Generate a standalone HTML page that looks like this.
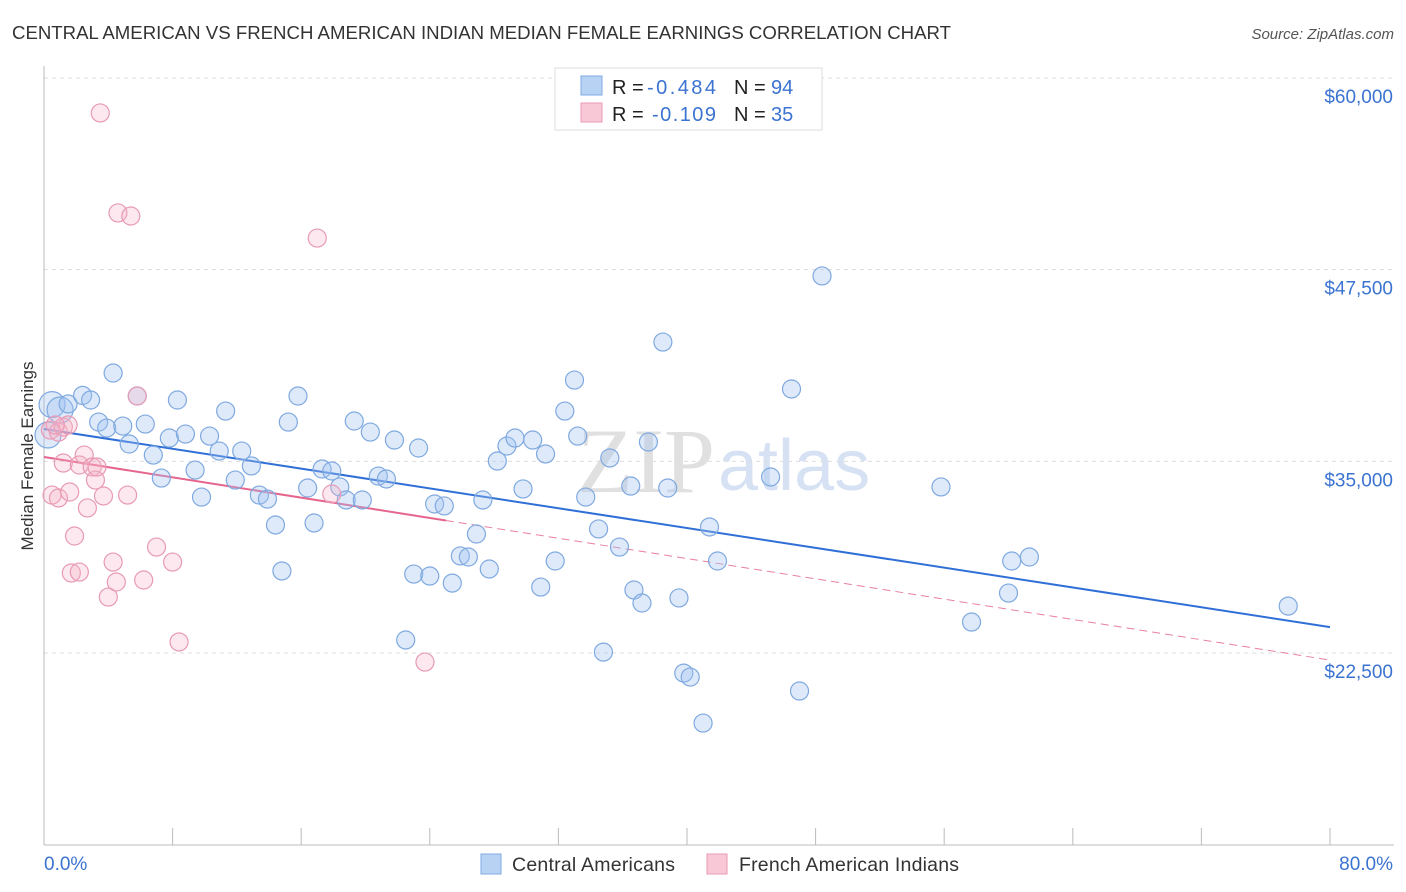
<!DOCTYPE html>
<html><head><meta charset="utf-8">
<style>
body{margin:0;background:#fff;font-family:"Liberation Sans",sans-serif;}
#wrap{position:relative;width:1406px;height:892px;overflow:hidden;}
</style></head>
<body><div id="wrap">
<svg id="svg" width="1406" height="892" xmlns="http://www.w3.org/2000/svg">
<text x="12" y="39" font-size="18" fill="#333" textLength="939" lengthAdjust="spacingAndGlyphs">CENTRAL AMERICAN VS FRENCH AMERICAN INDIAN MEDIAN FEMALE EARNINGS CORRELATION CHART</text>
<text x="1394" y="39" font-size="15" fill="#555" font-style="italic" text-anchor="end">Source: ZipAtlas.com</text>
<text x="33" y="456" font-size="17" fill="#333" text-anchor="middle" transform="rotate(-90 33 456)">Median Female Earnings</text>
<text x="715" y="492" font-size="92" fill="#c8c8c8" opacity="0.55" font-family="Liberation Serif" text-anchor="end">ZIP</text>
<text x="718" y="490" font-size="72" fill="#bcd0ee" opacity="0.6">atlas</text>
<g id="grid"></g><g id="axes"></g><g id="lines"></g><g id="pts"></g>
<g>
<rect x="555" y="68" width="267" height="62" fill="#fff" stroke="#ddd"/>
<rect x="581" y="76" width="21" height="19" fill="#b7d2f3" stroke="#7fa9e0"/>
<rect x="581" y="103" width="21" height="19" fill="#f9c8d7" stroke="#e89ab5"/>
<text x="612" y="94" font-size="20" fill="#222">R = <tspan fill="#3b73d1" x="647" textLength="69">-0.484</tspan></text>
<text x="734" y="94" font-size="20" fill="#222">N = <tspan fill="#3b73d1" x="771">94</tspan></text>
<text x="612" y="121" font-size="20" fill="#222">R = <tspan fill="#3b73d1" x="652" textLength="64">-0.109</tspan></text>
<text x="734" y="121" font-size="20" fill="#222">N = <tspan fill="#3b73d1" x="771">35</tspan></text>
</g>
<g>
<rect x="481" y="854" width="20" height="20" fill="#b7d2f3" stroke="#7fa9e0"/>
<text x="512" y="871" font-size="19.5" fill="#333" textLength="163">Central Americans</text>
<text x="739" y="871" font-size="19.5" fill="#333" textLength="220">French American Indians</text>
<rect x="707" y="854" width="20" height="20" fill="#f9c8d7" stroke="#e89ab5"/>
</g>
</svg>
<script>
const yTicks=[60000,47500,35000,22500];
const yTickLabels=["$60,000","$47,500","$35,000","$22,500"];
const xTickLabels=["0.0%","80.0%"];
const blueX=[0.5,1.0,1.5,2.4,2.9,3.4,3.9,4.3,4.9,5.3,5.8,6.3,6.8,7.3,7.8,8.3,8.8,9.4,9.8,10.3,10.9,11.3,11.9,12.3,12.9,13.4,13.9,14.4,14.8,15.2,15.8,16.4,16.8,17.3,17.9,18.4,18.8,19.3,19.8,20.3,20.8,21.3,21.8,22.5,23.0,23.3,24.0,24.3,24.9,25.4,25.9,26.4,26.9,27.3,27.7,28.2,28.8,29.3,29.8,30.4,30.9,31.2,31.8,32.4,33.0,33.2,33.7,34.5,34.8,35.2,35.8,36.5,36.7,37.2,37.6,38.5,38.8,39.5,39.8,40.2,41.0,41.4,41.9,45.2,46.5,47.0,48.4,55.8,57.7,60.0,60.2,61.3,77.4,0.25];
const blueY=[38700,38350,38740,39300,39000,37560,37170,40760,37300,36130,39260,37430,35410,33910,36520,39000,36780,34430,32670,36650,35670,38280,33780,35670,34700,32800,32540,30850,27850,37560,39260,33260,30980,34500,34370,33330,32480,37630,32480,36910,34040,33850,36390,23350,27650,35870,27520,32220,32090,27060,28830,28760,30260,32480,27980,35020,36000,36520,33200,36390,26800,35480,28500,38280,40300,36650,32670,30590,22560,35220,29410,33390,26610,25760,36260,42780,33260,26090,21190,20930,17930,30720,28500,33980,39720,20020,47090,33330,24520,26410,28500,28760,25560,36720];
const pinkX=[3.5,4.6,5.4,17.0,0.4,0.9,1.2,1.5,0.5,0.9,1.2,1.6,1.9,1.7,2.2,2.2,2.5,2.7,3.0,3.2,3.7,4.0,4.3,4.5,5.2,5.8,6.2,7.0,8.0,8.4,17.9,23.7,3.3,0.7];
const pinkY=[57720,51200,51000,49560,37040,36910,37240,37370,32800,32610,34890,33000,30130,27720,27780,34760,35410,31960,34630,33780,32740,26150,28430,27130,32800,39260,27260,29410,28430,23220,32870,21910,34630,37370];
const blueTrend=[37110,24190];
const pinkTrend=[35280,22040];
const pinkSolidEnd=25;
const X0=44,X1=1330,Y0=78,YB=845;
const sx=v=>X0+(v/80)*(X1-X0);
const sy=v=>Y0+(60000-v)/12500*191.67;
const NS="http://www.w3.org/2000/svg";
function mk(tag,parent,attrs){const e=document.createElementNS(NS,tag);for(const k in attrs)e.setAttribute(k,attrs[k]);document.getElementById(parent).appendChild(e);return e;}
yTicks.forEach((t,i)=>{
 const l=mk('line','grid',{x1:X0,x2:1394,y1:sy(t),y2:sy(t),stroke:'#ddd','stroke-dasharray':'4,4'});
 
 
 const tx=mk('text','axes',{x:1393,y:sy(t)+25,'font-size':19,fill:'#3b73d1','text-anchor':'end'});
 tx.textContent=yTickLabels[i];
 
 
});
const ax=mk('line','axes',{x1:X0,x2:X0,y1:66,y2:YB,stroke:'#bbb'});


const bx=mk('line','axes',{x1:X0,x2:1394,y1:YB,y2:YB,stroke:'#bbb'});


for(let i=0;i<=10;i++){const t=mk('line','axes',{x1:sx(i*8),x2:sx(i*8),y1:828,y2:YB,stroke:'#bbb'});
 
 }
[[0,44,'start'],[80,1393,'end']].forEach((d,i)=>{const t=mk('text','axes',{x:d[1],y:870,'font-size':19,fill:'#3b73d1','text-anchor':d[2]});t.textContent=xTickLabels[i];
 
 });
const bl=mk('line','lines',{x1:sx(0),y1:sy(blueTrend[0]),x2:sx(80),y2:sy(blueTrend[1]),stroke:'#2f6fd6','stroke-width':2});


const pAt=x=>pinkTrend[0]+(pinkTrend[1]-pinkTrend[0])*x/80;
const pd=mk('line','lines',{x1:sx(pinkSolidEnd),y1:sy(pAt(pinkSolidEnd)),x2:sx(80),y2:sy(pinkTrend[1]),stroke:'#e8809f','stroke-width':1,'stroke-dasharray':'8,5'});


const ps=mk('line','lines',{x1:sx(0),y1:sy(pinkTrend[0]),x2:sx(pinkSolidEnd),y2:sy(pAt(pinkSolidEnd)),stroke:'#e5658d','stroke-width':2});


blueX.forEach((x,i)=>{const big=x<1.1&&i<3||i===blueX.length-1;const c=mk('circle','pts',{cx:sx(x),cy:sy(blueY[i]),r:big?13:9,fill:'rgba(160,196,240,0.35)',stroke:'#7fa9e0','stroke-width':1.2});
 
 });
pinkX.forEach((x,i)=>{const c=mk('circle','pts',{cx:sx(x),cy:sy(pinkY[i]),r:9,fill:'rgba(245,180,200,0.3)',stroke:'#e89ab5','stroke-width':1.2});
 
 });
</script>
</div></body></html>
